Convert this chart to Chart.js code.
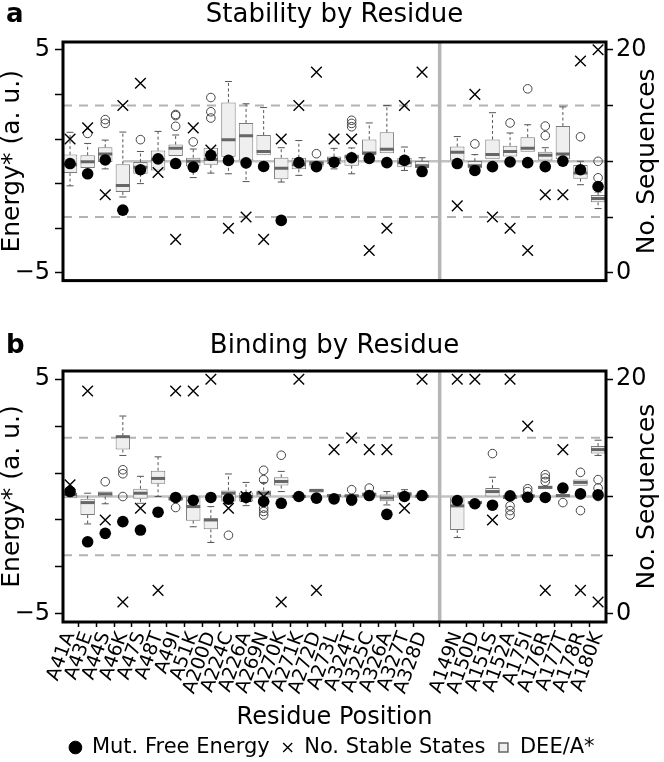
<!DOCTYPE html>
<html lang="en">
  <head>
    <meta charset="UTF-8" />
    <title>Stability and Binding by Residue</title>
    <script src="https://cdn.jsdelivr.net/npm/chart.js"></script>
    <style>
      html, body { margin: 0; padding: 0; background: #fff; overflow: hidden; }
      .panel { position: absolute; left: 0; width: 664px; }
      #panelA { top: 0; height: 300px; }
      #panelB { top: 300px; height: 468px; }
    </style>
  </head>
  <body>
    <div class="panel" id="panelA"><canvas id="stabilityChart" width="664" height="300"></canvas></div>
    <div class="panel" id="panelB"><canvas id="bindingChart" width="664" height="468"></canvas></div>

    <script>
      // residue positions (the empty slot is the gap with the grey divider)
      const residues = [
        "A41A", "A43E", "A44S", "A46K", "A47S", "A48T", "A49I", "A51K", "A200D", "A224C", "A226A",
        "A269N", "A270K", "A271K", "A272D", "A273L", "A324T", "A325C", "A326A", "A327T", "A328D",
        "",
        "A149N", "A150D", "A151S", "A152A", "A175I", "A176R", "A177T", "A178R", "A180K",
      ];

      // a: stability (energy, a. u.)
      const stabQ1 = [-0.53, -0.30, -0.03, -1.38, -0.56, -0.41, 0.24, -0.23, -0.16, 0.20, 0.04, 0.27, -0.80, -0.36, -0.23, -0.13, -0.20, 0.27, 0.36, -0.27, -0.30, null, 0.04, -0.31, 0.09, 0.21, 0.43, 0.04, 0.09, -0.78, -1.84];
      const stabMedian = [-0.15, -0.02, 0.33, -1.08, -0.27, 0.08, 0.58, 0.00, 0.08, 0.97, 1.15, 0.44, -0.31, -0.16, -0.10, 0.09, 0.20, 0.37, 0.54, -0.06, -0.20, null, 0.41, -0.20, 0.30, 0.44, 0.58, 0.27, 0.33, -0.53, -1.67];
      const stabQ3 = [0.30, 0.27, 0.63, -0.13, -0.03, 0.48, 0.75, 0.16, 0.61, 2.64, 1.72, 1.18, 0.16, 0.16, 0.01, 0.21, 0.30, 0.98, 1.30, 0.16, 0.01, null, 0.66, 0.01, 0.98, 0.70, 1.08, 0.43, 1.58, -0.17, -1.51];
      const stabLow = [-1.10, -0.30, -0.34, -1.60, -1.00, -0.41, 0.24, -0.73, -0.53, -0.56, -0.91, 0.27, -0.93, -0.63, -0.23, -0.34, -0.56, 0.27, 0.36, -0.41, -0.30, null, 0.04, -0.31, 0.09, 0.21, 0.43, 0.04, 0.09, -1.05, -2.12];
      const stabHigh = [1.30, 0.80, 0.95, 1.31, 0.44, 1.34, 1.18, 0.55, 0.61, 3.58, 2.58, 2.41, 0.61, 0.93, 0.01, 0.58, 0.60, 1.72, 2.50, 0.64, 0.16, null, 1.11, 0.30, 2.18, 1.27, 1.64, 0.61, 2.44, 0.00, -1.38];
      const stabOutliers = [[], [1.25], [1.70, 1.87], [], [0.97], [], [1.57, 2.05, 2.10], [0.87], [1.94, 2.22, 2.86], [], [], [], [], [], [0.34], [], [1.55, 1.70, 1.84], [], [], [], [], [], [], [0.78], [], [1.72], [3.25], [1.15, 1.58], [], [1.10], [-0.74, 0.00]];
      const stabFreeEnergy = [-0.10, -0.56, 0.06, -2.19, -0.38, 0.11, -0.10, -0.26, 0.27, 0.04, -0.07, -0.23, -2.65, -0.06, -0.24, -0.04, 0.16, 0.13, -0.06, 0.04, -0.46, null, -0.10, -0.41, -0.24, -0.03, -0.06, -0.24, 0.01, -0.38, -1.13];
      const stabStates = [12, 13, 7, 15, 17, 9, 3, 13, 11, 4, 5, 3, 12, 15, 18, 12, 12, 2, 4, 15, 18, null, 6, 16, 5, 4, 2, 7, 7, 19, 20];

      // b: binding (energy, a. u.)
      const bindQ1 = [-0.07, -0.79, 0.00, 2.00, -0.10, 0.54, -0.17, -1.03, -1.40, -0.21, -0.21, 0.00, 0.47, -0.04, 0.17, -0.03, -0.03, 0.00, -0.20, 0.03, -0.03, null, -1.43, -0.33, 0.00, -0.11, -0.03, 0.31, -0.03, 0.46, 1.83];
      const bindMedian = [0.07, -0.26, 0.11, 2.55, 0.14, 0.77, -0.10, -0.43, -1.00, 0.14, 0.00, 0.14, 0.64, 0.00, 0.26, 0.04, 0.03, 0.10, -0.06, 0.11, 0.01, null, -0.40, -0.26, 0.21, -0.04, 0.03, 0.39, 0.04, 0.60, 2.00];
      const bindQ3 = [0.17, -0.10, 0.21, 2.58, 0.33, 1.10, 0.00, 0.00, -0.93, 0.26, 0.17, 0.26, 0.82, 0.07, 0.31, 0.07, 0.07, 0.14, 0.09, 0.17, 0.04, null, -0.04, -0.19, 0.36, 0.07, 0.07, 0.46, 0.07, 0.72, 2.15];
      const bindLow = [-0.07, -1.17, -0.31, 1.75, -0.29, 0.00, -0.17, -1.29, -1.96, -0.21, -0.39, 0.00, 0.21, -0.04, 0.17, -0.03, -0.03, 0.00, -0.36, 0.03, -0.03, null, -1.75, -0.33, 0.00, -0.11, -0.03, 0.31, -0.03, 0.46, 1.75];
      const bindHigh = [0.17, 0.14, 0.21, 3.43, 0.86, 1.69, 0.00, 0.00, -0.43, 0.96, 0.60, 0.60, 1.07, 0.07, 0.31, 0.07, 0.07, 0.14, 0.21, 0.29, 0.04, null, -0.04, -0.19, 0.82, 0.07, 0.07, 0.46, 0.07, 0.72, 2.40];
      const bindOutliers = [[], [], [0.63], [0.00, 0.97, 1.14], [], [], [-0.47], [], [], [-1.65], [], [-0.79, -0.64, -0.50, 0.72, 1.12], [1.76], [], [], [], [-0.21, 0.29], [0.36], [], [], [], [], [], [], [1.83], [-0.79, -0.60, -0.40], [0.21, 0.33], [0.64, 0.79, 0.93], [-0.26], [-0.60, 1.03], [0.00, 0.36, 0.72]];
      const bindFreeEnergy = [0.21, -1.93, -1.57, -1.07, -1.43, -0.67, -0.04, -0.16, -0.04, -0.11, -0.04, -0.21, -0.29, 0.00, -0.07, -0.10, -0.14, 0.04, -0.76, 0.00, 0.04, null, -0.17, -0.31, -0.37, 0.03, -0.03, -0.04, 0.36, 0.11, 0.07];
      const bindStates = [11, 19, 8, 1, 9, 2, 19, 19, 20, 9, 10, 10, 1, 20, 2, 14, 15, 14, 14, 9, 20, null, 20, 20, 8, 20, 16, 2, 14, 2, 1];

      // axis ticks
      const energyTicks = [-5, -4, -3, -2, -1, 0, 1, 2, 3, 4, 5];
      const energyLabels = { "-5": "\u22125", 0: "0", 5: "5" };
      const countTicks = [0, 5, 10, 15, 20];
      const countLabels = { 0: "0", 20: "20" };
      const guideLevels = [-2.5, 2.5];
      const dividerAt = 21;

      Chart.defaults.font.family = "'DejaVu Sans', sans-serif";
      Chart.defaults.color = "#000";

      const BOX_FILL = "#efefef";
      const BOX_LINE = "#7a7a7a";

      // guides, frame and panel texts
      const panelDecor = {
        id: "panelDecor",
        beforeDatasetsDraw(chart, args, opts) {
          const { ctx, chartArea: a, scales } = chart;
          const x = scales.x;
          const y = scales.y;
          ctx.save();
          ctx.beginPath();
          ctx.rect(a.left, a.top, a.width, a.height);
          ctx.clip();
          ctx.strokeStyle = "#b3b3b3";
          ctx.lineWidth = 2;
          ctx.setLineDash([9, 7]);
          guideLevels.forEach((v) => {
            const py = y.getPixelForValue(v);
            ctx.beginPath();
            ctx.moveTo(a.left, py);
            ctx.lineTo(a.right, py);
            ctx.stroke();
          });
          ctx.setLineDash([]);
          ctx.strokeStyle = "#c2c2c2";
          ctx.lineWidth = 2.5;
          const py0 = y.getPixelForValue(0);
          ctx.beginPath();
          ctx.moveTo(x.getPixelForValue(opts.zeroFrom), py0);
          ctx.lineTo(a.right, py0);
          ctx.stroke();
          const px = x.getPixelForValue(dividerAt);
          ctx.strokeStyle = "#b5b5b5";
          ctx.lineWidth = 3.5;
          ctx.beginPath();
          ctx.moveTo(px, a.top);
          ctx.lineTo(px, a.bottom);
          ctx.stroke();
          ctx.restore();
        },
        afterDatasetsDraw(chart) {
          const { ctx, chartArea: a } = chart;
          ctx.save();
          ctx.strokeStyle = "#000";
          ctx.lineWidth = 3;
          ctx.strokeRect(a.left, a.top, a.width, a.height);
          ctx.restore();
        },
        afterDraw(chart, args, opts) {
          const { ctx, chartArea: a } = chart;
          ctx.save();
          ctx.fillStyle = "#000";
          ctx.textBaseline = "alphabetic";
          ctx.textAlign = "left";
          ctx.font = "bold 26px 'DejaVu Sans', sans-serif";
          ctx.fillText(opts.letter, 6, opts.titleY);
          ctx.textAlign = "center";
          ctx.font = "26px 'DejaVu Sans', sans-serif";
          ctx.fillText(opts.title, (a.left + a.right) / 2, opts.titleY);
          ctx.translate(647, (a.top + a.bottom) / 2);
          ctx.rotate(-Math.PI / 2);
          ctx.textBaseline = "middle";
          ctx.font = "25px 'DejaVu Sans', sans-serif";
          ctx.fillText("No. Sequences", 0, 0);
          ctx.restore();
        },
      };

      function buildDatasets(q1, med, q3, lo, hi, outliers, dots, states) {
        const idx = residues.map((r, i) => i).filter((i) => q1[i] !== null);
        const whiskers = [];
        const caps = [];
        idx.forEach((i) => {
          if (lo[i] < q1[i]) {
            whiskers.push({ x: i, y: q1[i] }, { x: i, y: lo[i] }, { x: i, y: null });
            caps.push({ x: i, y: lo[i] });
          }
          if (hi[i] > q3[i]) {
            whiskers.push({ x: i, y: q3[i] }, { x: i, y: hi[i] }, { x: i, y: null });
            caps.push({ x: i, y: hi[i] });
          }
        });
        const outlierPoints = [];
        idx.forEach((i) => outliers[i].forEach((v) => outlierPoints.push({ x: i, y: v })));

        return [
          {
            type: "scatter",
            label: "Mut. Free Energy",
            data: idx.map((i) => ({ x: i, y: dots[i] })),
            pointRadius: 5.8,
            pointBackgroundColor: "#000",
            pointBorderColor: "#000",
            pointBorderWidth: 0,
            order: 0,
          },
          {
            type: "scatter",
            label: "No. Stable States",
            yAxisID: "y1",
            data: idx.map((i) => ({ x: i, y: states[i] })),
            pointStyle: "crossRot",
            pointRadius: 7.5,
            pointBorderColor: "#000",
            pointBorderWidth: 1.4,
            order: 1,
          },
          {
            type: "scatter",
            label: "outliers",
            data: outlierPoints,
            pointRadius: 4.3,
            pointBackgroundColor: "rgba(255,255,255,0)",
            pointBorderColor: "#444",
            pointBorderWidth: 1,
            order: 2,
          },
          {
            type: "scatter",
            label: "median",
            data: idx.map((i) => ({ x: i, y: med[i] })),
            pointStyle: "line",
            pointRadius: 7,
            pointBorderColor: "#666",
            pointBorderWidth: 3,
            order: 3,
          },
          {
            type: "scatter",
            label: "caps",
            data: caps,
            pointStyle: "line",
            pointRadius: 3.5,
            pointBorderColor: "#555",
            pointBorderWidth: 1,
            order: 4,
          },
          {
            type: "line",
            label: "whiskers",
            data: whiskers,
            borderColor: "#555",
            borderWidth: 1,
            borderDash: [3, 2.5],
            pointRadius: 0,
            spanGaps: false,
            fill: false,
            order: 5,
          },
          {
            type: "bar",
            label: "DEE/A*",
            data: idx.map((i) => ({ x: i, y: [q1[i], q3[i]] })),
            backgroundColor: BOX_FILL,
            borderColor: BOX_LINE,
            borderWidth: 1,
            borderSkipped: false,
            barPercentage: 0.82,
            categoryPercentage: 1,
            order: 6,
          },
        ];
      }

      function energyAxis() {
        return {
          type: "linear",
          position: "left",
          min: -5.35,
          max: 5.35,
          border: { display: false },
          grid: { drawOnChartArea: false, tickLength: 8, color: "#000", tickWidth: 1.5 },
          afterBuildTicks: (s) => {
            s.ticks = energyTicks.map((v) => ({ value: v }));
          },
          ticks: {
            padding: 5,
            font: { size: 24 },
            callback: (v) => energyLabels[v] || "",
          },
          title: {
            display: true,
            text: "Energy* (a. u.)",
            font: { size: 25, lineHeight: 1 },
            padding: 0,
          },
          afterFit: (s) => {
            s.width = 63;
          },
        };
      }

      function countAxis() {
        return {
          type: "linear",
          position: "right",
          min: -0.7,
          max: 20.7,
          border: { display: false },
          grid: { drawOnChartArea: false, tickLength: 7, color: "#000", tickWidth: 1.5 },
          afterBuildTicks: (s) => {
            s.ticks = countTicks.map((v) => ({ value: v }));
          },
          ticks: {
            padding: 3,
            font: { size: 24 },
            callback: (v) => countLabels[v] || "",
          },
          afterFit: (s) => {
            s.width = 58;
          },
        };
      }

      // a: Stability by Residue
      new Chart(document.getElementById("stabilityChart"), {
        type: "bar",
        data: {
          datasets: buildDatasets(stabQ1, stabMedian, stabQ3, stabLow, stabHigh, stabOutliers, stabFreeEnergy, stabStates),
        },
        options: {
          responsive: false,
          animation: false,
          events: [],
          layout: { padding: { top: 42, bottom: 8, left: 0, right: 0 } },
          scales: {
            x: { type: "linear", min: -0.4, max: 30.45, offset: false, display: false },
            y: energyAxis(),
            y1: countAxis(),
          },
          plugins: {
            legend: { display: false },
            tooltip: { enabled: false },
            panelDecor: { letter: "a", title: "Stability by Residue", titleY: 22, zeroFrom: 3 },
          },
        },
        plugins: [panelDecor],
      });

      // b: Binding by Residue
      new Chart(document.getElementById("bindingChart"), {
        type: "bar",
        data: {
          datasets: buildDatasets(bindQ1, bindMedian, bindQ3, bindLow, bindHigh, bindOutliers, bindFreeEnergy, bindStates),
        },
        options: {
          responsive: false,
          animation: false,
          events: [],
          layout: { padding: { top: 71, bottom: 0, left: 0, right: 0 } },
          scales: {
            x: {
              type: "linear",
              min: -0.4,
              max: 30.45,
              offset: false,
              border: { display: false },
              grid: { drawOnChartArea: false, tickLength: 5, color: "#000", tickWidth: 1.5 },
              afterBuildTicks: (s) => {
                s.ticks = residues
                  .map((r, i) => ({ value: i }))
                  .filter((t) => residues[t.value] !== "");
              },
              ticks: {
                autoSkip: false,
                minRotation: 70,
                maxRotation: 70,
                padding: 2,
                font: { size: 19 },
                callback: (v) => residues[v],
              },
              title: {
                display: true,
                text: "Residue Position",
                font: { size: 24, lineHeight: 0.6 },
                padding: 0,
              },
              afterFit: (s) => {
                s.height = 103;
              },
            },
            y: energyAxis(),
            y1: countAxis(),
          },
          plugins: {
            tooltip: { enabled: false },
            legend: {
              position: "bottom",
              labels: {
                usePointStyle: true,
                boxWidth: 12,
                boxHeight: 9,
                padding: 12,
                color: "#000",
                font: { size: 21 },
                generateLabels: () => [
                  { text: "Mut. Free Energy", pointStyle: "circle", fillStyle: "#000", strokeStyle: "#000", lineWidth: 1, fontColor: "#000" },
                  { text: "No. Stable States", pointStyle: "crossRot", fillStyle: "#000", strokeStyle: "#000", lineWidth: 1.4, fontColor: "#000" },
                  { text: "DEE/A*", pointStyle: "rect", fillStyle: BOX_FILL, strokeStyle: "#666", lineWidth: 1.5, fontColor: "#000" },
                ],
              },
            },
            panelDecor: { letter: "b", title: "Binding by Residue", titleY: 53, zeroFrom: -0.4 },
          },
        },
        plugins: [panelDecor],
      });
    </script>
  </body>
</html>
